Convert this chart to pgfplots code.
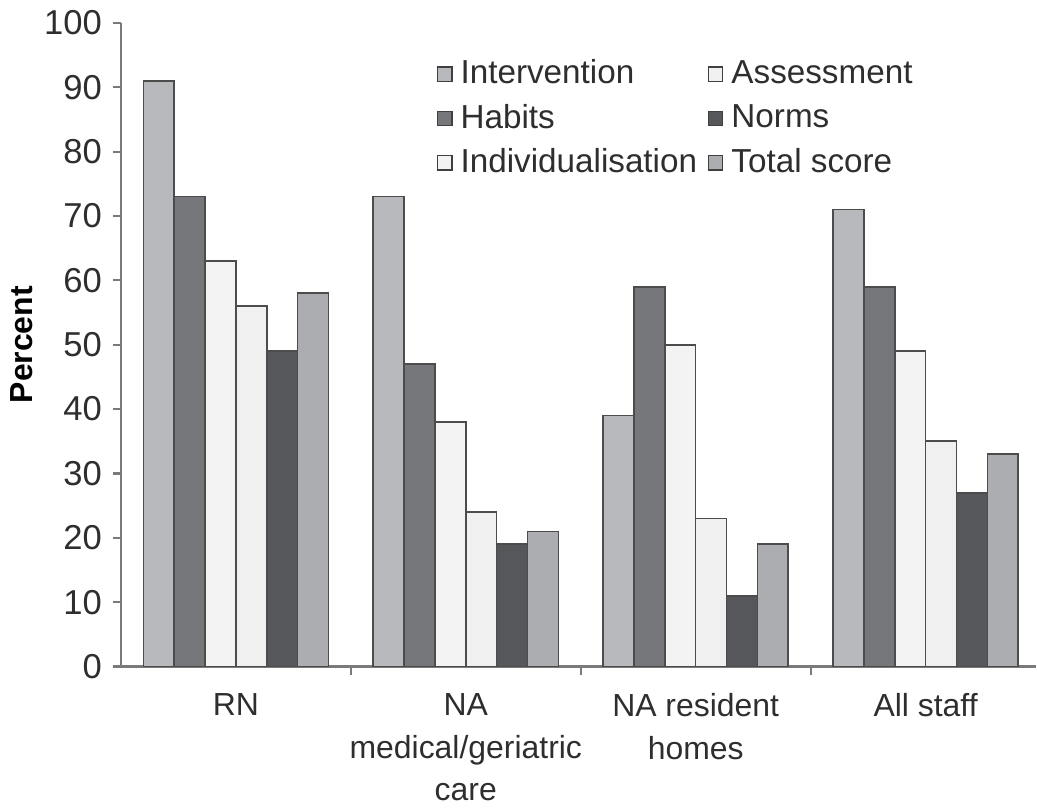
\documentclass[border=0pt]{standalone}
\usepackage{fontspec}
\setmainfont{Liberation Sans}
\usepackage{pgfplots}
\pgfplotsset{compat=1.18}

\definecolor{cInt}{HTML}{B8B9BD}
\definecolor{cHab}{HTML}{76777B}
\definecolor{cInd}{HTML}{F3F3F3}
\definecolor{cAss}{HTML}{F0F0F0}
\definecolor{cNor}{HTML}{56575A}
\definecolor{cTot}{HTML}{ACADB0}
\definecolor{axgray}{HTML}{7A7A7A}
\definecolor{txt}{HTML}{2E2E2E}

\begin{document}
\begin{tikzpicture}
\fontsize{12}{14}\selectfont
\begin{axis}[
  scale only axis,
  width=344pt, height=242pt,
  ybar=0pt, bar width=11.6pt,
  ymin=0, ymax=100, ytick={0,10,...,100},
  xmin=-0.5, xmax=3.48,
  xtick={0,1,2,3},
  xticklabels={RN, NA\\medical/geriatric\\care, NA resident\\homes, All staff},
  xticklabel style={align=center, text=txt, yshift=-3pt},
  x tick label style={font=\fontsize{12}{16}\selectfont},
  y tick label style={font=\fontsize{13}{14}\selectfont},
  major x tick style={draw=none},
  minor xtick={0.5,1.5,2.5},
  minor x tick style={draw=axgray, thick},
  minor tick length=3pt,
  major tick length=3pt,
  axis x line=bottom, axis y line=left,
  axis line style={draw=axgray, thick, -},
  y tick style={draw=axgray, thick},
  tick align=outside,
  yticklabel style={text=txt},
  /pgf/number format/assume math mode=true,
  ylabel={\textbf{Percent}},
  ylabel style={at={(rel axis cs:-0.084,0.5)}, anchor=south, text=black, font=\fontsize{12}{14}\selectfont},
  clip=false,
  legend style={draw=none, fill=none, at={(rel axis cs:0.336,0.96)}, anchor=north west,
    legend cell align=left, font=\fontsize{12.5}{14}\selectfont, text=txt,
    row sep=1.8pt, column sep=2pt,
    /tikz/every odd column/.style={column sep=1pt}},
  legend columns=3,
  transpose legend,
  legend image code/.code={\draw[#1, draw=black!75, line width=0.5pt] (0pt,-2.7pt) rectangle (5.4pt,2.7pt);},
  every axis plot/.append style={draw=black!70, line width=0.6pt},
]
\addplot[fill=cInt] coordinates {(0,91) (1,73) (2,39) (3,71)};
\addplot[fill=cHab] coordinates {(0,73) (1,47) (2,59) (3,59)};
\addplot[fill=cInd] coordinates {(0,63) (1,38) (2,50) (3,49)};
\addplot[fill=cAss] coordinates {(0,56) (1,24) (2,23) (3,35)};
\addplot[fill=cNor] coordinates {(0,49) (1,19) (2,11) (3,27)};
\addplot[fill=cTot] coordinates {(0,58) (1,21) (2,19) (3,33)};
\legend{Intervention, Habits, Individualisation, Assessment, Norms, Total score}
\path (rel axis cs:-0.1309,-0.198) rectangle (rel axis cs:1,1.034);
\end{axis}
\end{tikzpicture}
\end{document}
